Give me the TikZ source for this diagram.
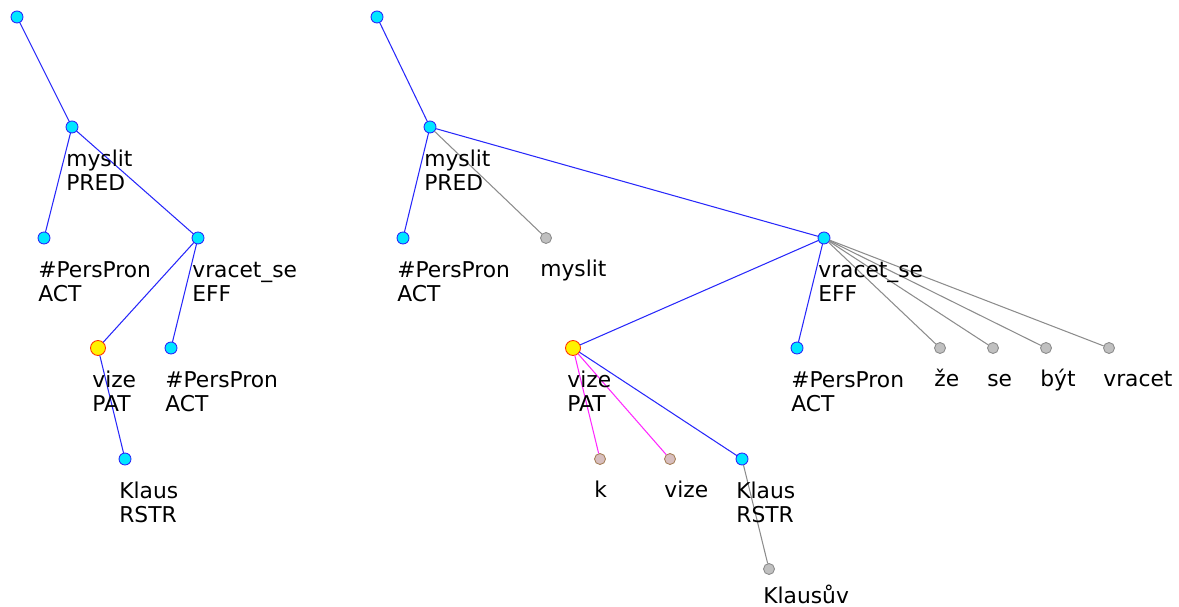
\documentclass[tikz,border=0pt]{standalone}
\usepackage{fontspec}
\setmainfont{DejaVu Sans}
\definecolor{edgeblue}{RGB}{40,40,250}
\definecolor{edgemag}{RGB}{255,40,255}
\definecolor{edgegray}{RGB}{140,140,140}
\definecolor{nodecyan}{RGB}{0,230,255}
\definecolor{nodegray}{RGB}{192,192,192}
\definecolor{nodepink}{RGB}{215,190,190}
\tikzset{
	nd/.style={circle, inner sep=0pt, minimum size=0.24cm, draw=edgeblue, fill=nodecyan, line width=0.5pt},
	ndy/.style={nd, minimum size=0.3cm, draw=red!80!yellow, fill=yellow},
	ndg/.style={nd, minimum size=0.22cm, draw=edgegray, fill=nodegray},
	ndp/.style={nd, minimum size=0.22cm, draw=brown!60!gray, fill=nodepink},
	lab/.style={anchor=base west, align=left, inner sep=0pt, xshift=-0.12cm, yshift=-0.78cm,
		font=\fontsize{12.4}{14.2}\selectfont},
	lab2/.style={lab, yshift=-0.5cm},
	eb/.style={edgeblue, line width=0.6pt},
	eg/.style={edgegray, line width=0.6pt},
	em/.style={edgemag, line width=0.6pt}
}
\begin{document}
\begin{tikzpicture}[x=0.02cm, y=-0.02cm, line join=round, line cap=round]
	\useasboundingbox (0,0) rectangle (1179,607);
	% left tree
	\node[nd] (root1) at (17,17) {};
	\node[nd] (myslit1) at (72,127) {};
	\node[nd] (pp1) at (44,238) {};
	\node[nd] (vr1) at (198,238) {};
	\node[ndy] (vize1) at (98,348) {};
	\node[nd] (pp2) at (171,348) {};
	\node[nd] (klaus1) at (125,459) {};
	\draw[eb] (root1) -- (myslit1);
	\draw[eb] (myslit1) -- (pp1);
	\draw[eb] (myslit1) -- (vr1);
	\draw[eb] (vr1) -- (vize1);
	\draw[eb] (vr1) -- (pp2);
	\draw[eb] (vize1) -- (klaus1);
	\node[lab2] at (myslit1) {myslit\\PRED};
	\node[lab2] at (pp1) {\#PersPron\\ACT};
	\node[lab2] at (vr1) {vracet\_se\\EFF};
	\node[lab2] at (vize1) {vize\\PAT};
	\node[lab2] at (pp2) {\#PersPron\\ACT};
	\node[lab2] at (klaus1) {Klaus\\RSTR};
	% right tree
	\node[nd] (root2) at (377,17) {};
	\node[nd] (myslit2) at (430,127) {};
	\node[nd] (pp3) at (403,238) {};
	\node[ndg] (myslitw) at (546,238) {};
	\node[nd] (vr2) at (824,238) {};
	\node[ndy] (vize2) at (573,348) {};
	\node[nd] (pp4) at (797,348) {};
	\node[ndg] (ze) at (940,348) {};
	\node[ndg] (se) at (993,348) {};
	\node[ndg] (byt) at (1046,348) {};
	\node[ndg] (vracet) at (1109,348) {};
	\node[ndp] (k) at (600,459) {};
	\node[ndp] (vizew) at (670,459) {};
	\node[nd] (klaus2) at (742,459) {};
	\node[ndg] (klausuv) at (769,569) {};
	\draw[eb] (root2) -- (myslit2);
	\draw[eb] (myslit2) -- (pp3);
	\draw[eg] (myslit2) -- (myslitw);
	\draw[eb] (myslit2) -- (vr2);
	\draw[eb] (vr2) -- (vize2);
	\draw[eb] (vr2) -- (pp4);
	\foreach \w in {ze,se,byt,vracet}
		\draw[eg] (vr2) -- (\w);
	\draw[em] (vize2) -- (k);
	\draw[em] (vize2) -- (vizew);
	\draw[eb] (vize2) -- (klaus2);
	\draw[eg] (klaus2) -- (klausuv);
	\node[lab2] at (myslit2) {myslit\\PRED};
	\node[lab2] at (pp3) {\#PersPron\\ACT};
	\node[lab] at (myslitw) {myslit};
	\node[lab2] at (vr2) {vracet\_se\\EFF};
	\node[lab2] at (vize2) {vize\\PAT};
	\node[lab2] at (pp4) {\#PersPron\\ACT};
	\node[lab] at (ze) {že};
	\node[lab] at (se) {se};
	\node[lab] at (byt) {být};
	\node[lab] at (vracet) {vracet};
	\node[lab] at (k) {k};
	\node[lab] at (vizew) {vize};
	\node[lab2] at (klaus2) {Klaus\\RSTR};
	\node[lab, yshift=0.08cm] at (klausuv) {Klausův};
\end{tikzpicture}
\end{document}
